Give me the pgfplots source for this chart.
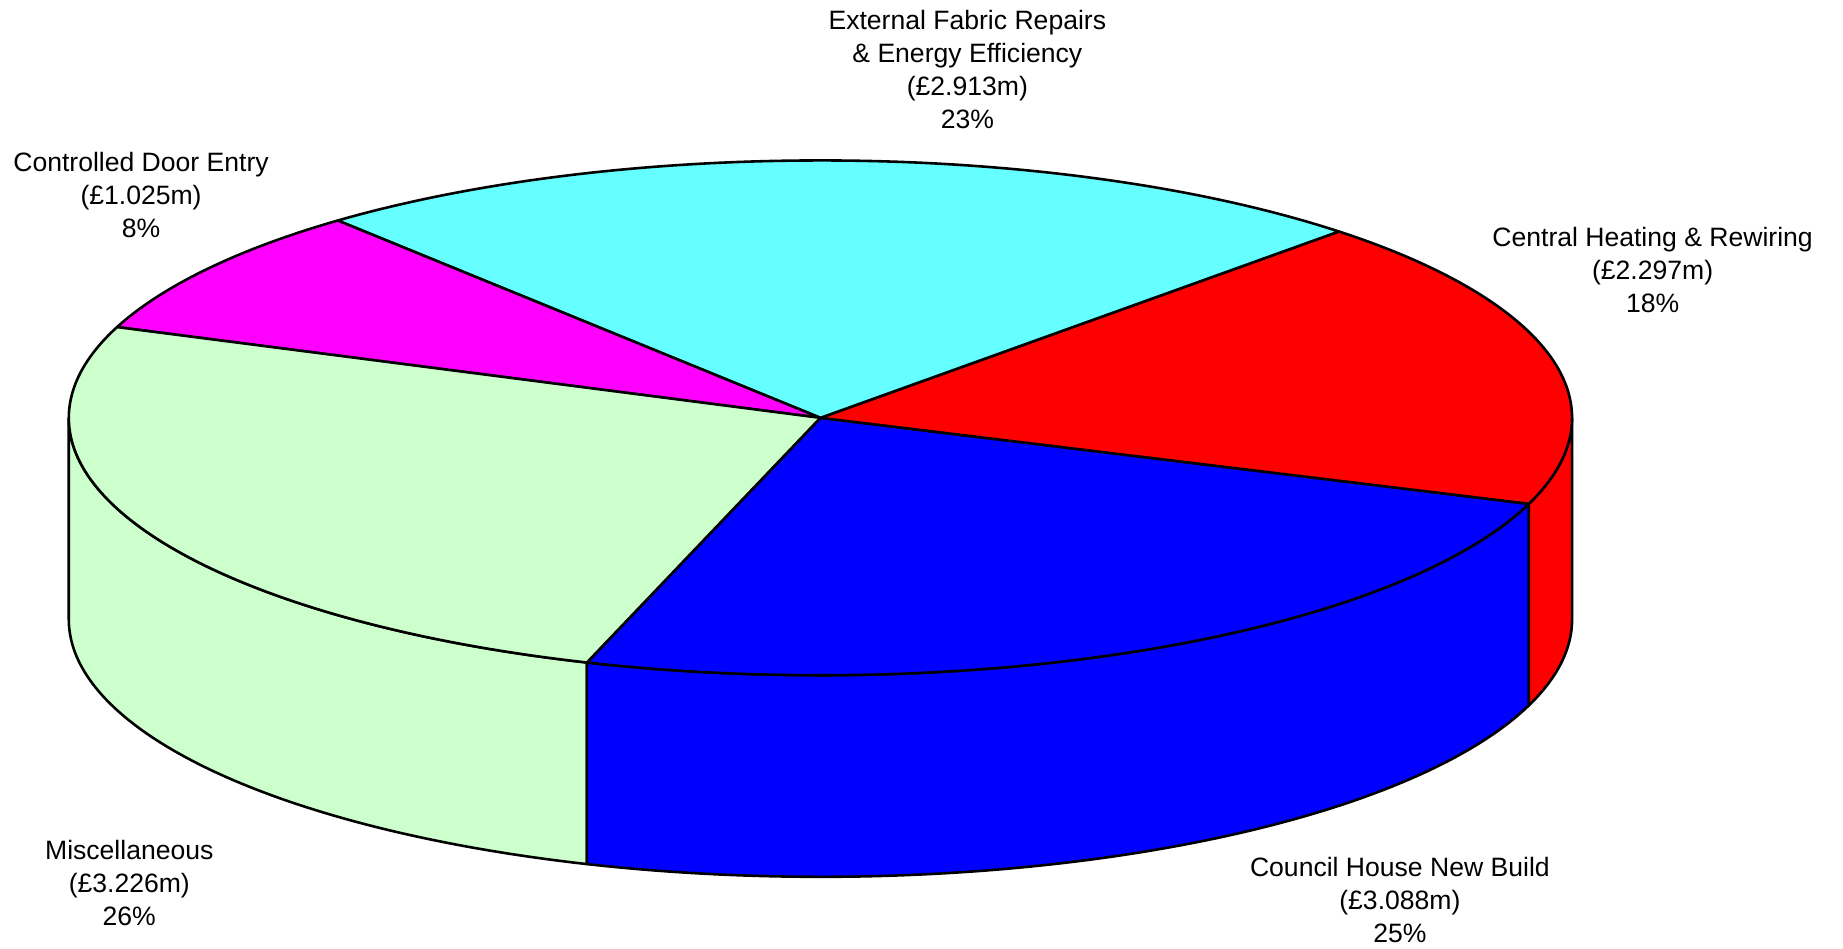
\documentclass[border=0pt]{standalone}
\usepackage{pgfplots}
\pgfplotsset{compat=1.18}
\usepackage{pgfplotstable}
\usepackage{fontspec}
\setmainfont{Liberation Sans}

\definecolor{misc}{HTML}{CCFFCC}
\definecolor{council}{HTML}{0000FF}
\definecolor{heating}{HTML}{FF0000}
\definecolor{fabric}{HTML}{66FFFF}
\definecolor{door}{HTML}{FF00FF}

% Capital programme (£m), anticlockwise from the front
\pgfplotstableread{
slice value
council 3.088
heating 2.297
fabric 2.913
door 1.025
misc 3.226
}\programme

% pie geometry in drawing units
\def\cx{698}\def\cy{451.5}\def\rx{639.5}\def\ry{219}\def\depth{171.5}
\def\startangle{-108.1}

\pgfplotstablegetelem{0}{value}\of\programme \let\vA\pgfplotsretval
\pgfplotstablegetelem{1}{value}\of\programme \let\vB\pgfplotsretval
\pgfplotstablegetelem{2}{value}\of\programme \let\vC\pgfplotsretval
\pgfplotstablegetelem{3}{value}\of\programme \let\vD\pgfplotsretval
\pgfplotstablegetelem{4}{value}\of\programme \let\vE\pgfplotsretval
\pgfmathsetmacro\total{\vA+\vB+\vC+\vD+\vE}
\pgfmathsetmacro\aA{\startangle}
\pgfmathsetmacro\aB{\aA+360*\vA/\total}
\pgfmathsetmacro\aC{\aB+360*\vB/\total}
\pgfmathsetmacro\aD{\aC+360*\vC/\total}
\pgfmathsetmacro\aE{\aD+360*\vD/\total}
\pgfmathsetmacro\aF{\aA+360}

% top face of a slice: arc from #2 to #3, then back to the centre
\newcommand\topslice[3]{%
  \addplot[draw=black, fill=#1, samples at={0,...,81}]
    ({\cx+(1-(x>80))*\rx*cos((#2)+((#3)-(#2))*x/80)},
     {\cy+(1-(x>80))*\ry*sin((#2)+((#3)-(#2))*x/80)}) -- cycle;
}
% visible wall of a slice between angles #2 and #3
\newcommand\sideslice[3]{%
  \addplot[draw=black, fill=#1, samples at={0,...,161}]
    ({\cx+\rx*cos((#2)+((#3)-(#2))*((1-(x>80))*x+(x>80)*(161-x))/80)},
     {\cy+\ry*sin((#2)+((#3)-(#2))*((1-(x>80))*x+(x>80)*(161-x))/80)-(x>80)*\depth}) -- cycle;
}

\newcommand\labelfont{\fontsize{11.3}{14}\selectfont}

\begin{document}
\begin{tikzpicture}
\begin{axis}[
  width=784pt, height=403.5pt, scale only axis,
  xmin=0, xmax=1568, ymin=0, ymax=807,
  hide axis, clip=false,
  every axis plot/.append style={line width=1.1pt, line join=round, mark=none},
]
\path (rel axis cs:0,0) rectangle (rel axis cs:1,1);

% walls (front half only)
\sideslice{misc}{180}{\aF}
\sideslice{council}{\aA}{\aB}
\sideslice{heating}{\aB}{0}

% top faces
\topslice{council}{\aA}{\aB}
\topslice{heating}{\aB}{\aC}
\topslice{fabric}{\aC}{\aD}
\topslice{door}{\aD}{\aE}
\topslice{misc}{\aE}{\aF}

% slice labels
\begin{scope}[every node/.style={align=center, inner sep=0pt, font=\labelfont}]
\node at (axis cs:823,748) {External Fabric Repairs\\\& Energy Efficiency\\(£2.913m)\\23\%};
\node at (axis cs:120,641) {Controlled Door Entry\\(£1.025m)\\8\%};
\node at (axis cs:1406,577) {Central Heating \& Rewiring\\(£2.297m)\\18\%};
\node at (axis cs:110,56) {Miscellaneous\\(£3.226m)\\26\%};
\node at (axis cs:1191,41) {Council House New Build\\(£3.088m)\\25\%};
\end{scope}
\end{axis}
\end{tikzpicture}
\end{document}
